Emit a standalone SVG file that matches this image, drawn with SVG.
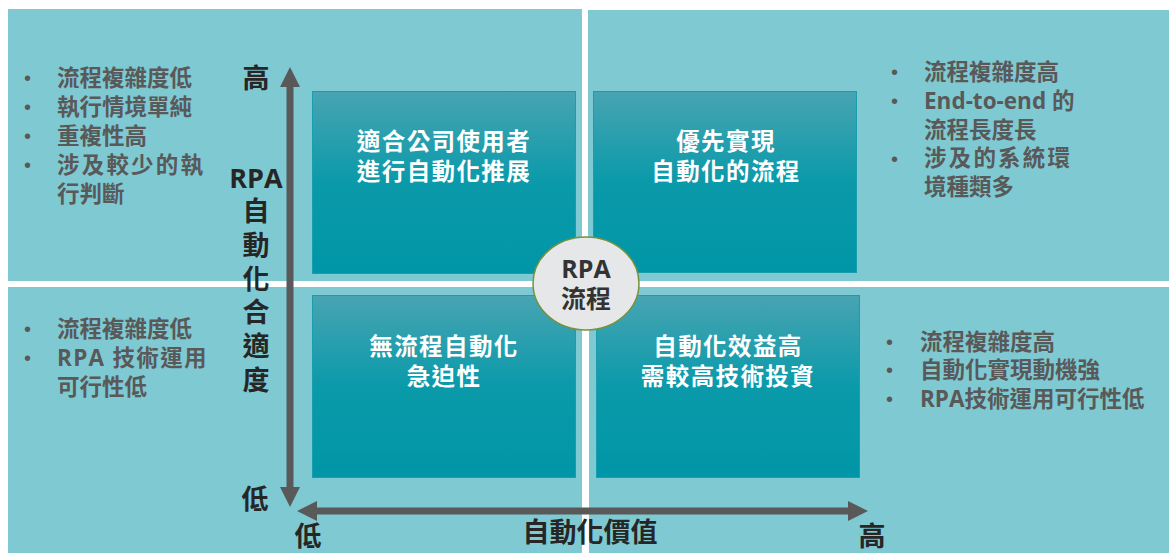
<svg xmlns="http://www.w3.org/2000/svg" width="1169" height="553" viewBox="0 0 1169 553">
<defs>
<linearGradient id="boxg" x1="0" y1="0" x2="0" y2="1">
<stop offset="0" stop-color="#48A4B2"/>
<stop offset="0.5" stop-color="#0A9AAA"/>
<stop offset="1" stop-color="#0096A7"/>
</linearGradient>
<marker id="ah" viewBox="0 0 20 20" refX="0" refY="10" markerWidth="20" markerHeight="20" markerUnits="userSpaceOnUse" orient="auto-start-reverse">
<path d="M0,0 L20,10 L0,20 Z" fill="#595959"/>
</marker>
</defs>
<style>
.quad{fill:#7FC9D2}
.box{fill:url(#boxg);stroke:#1A9EAE;stroke-width:1}
.bt{font-family:"Noto Sans CJK TC","Noto Sans",sans-serif;font-weight:bold;font-size:23.5px;letter-spacing:1.4px;fill:#FFFFFF;text-anchor:middle}
.st{font-family:"Open Sans","Noto Sans CJK TC",sans-serif;font-weight:bold;font-size:22.5px;fill:#595959}
.bul{font-family:"Liberation Sans",sans-serif;font-size:20px;fill:#595959}
.ax{font-family:"Open Sans","Noto Sans CJK TC",sans-serif;font-weight:bold;font-size:27px;fill:#262626;text-anchor:middle}
.cl{font-family:"Open Sans","Noto Sans CJK TC",sans-serif;font-weight:bold;font-size:25px;fill:#333333;text-anchor:middle}
.arr{stroke:#595959;stroke-width:7;fill:none}
</style>
<rect width="1169" height="553" fill="#FFFFFF"/>
<g id="background">
<rect class="quad" x="8" y="9" width="574" height="272"/>
<rect class="quad" x="588" y="10" width="581" height="271"/>
<rect class="quad" x="8" y="287" width="574" height="266"/>
<rect class="quad" x="589" y="287" width="580" height="266"/>
</g>
<g id="connectors">
<line class="arr" x1="290" y1="487" x2="290" y2="87" marker-start="url(#ah)" marker-end="url(#ah)"/>
<line class="arr" x1="317" y1="511" x2="848" y2="511" stroke-width="6.5" marker-start="url(#ah)" marker-end="url(#ah)"/>
</g>
<g id="node-tl">
<rect class="box" x="312.5" y="91.5" width="263" height="182"/>
<text class="bt" x="444" y="150">適合公司使用者</text>
<text class="bt" x="444" y="180">進行自動化推展</text>
</g>
<g id="node-tr">
<rect class="box" x="593.5" y="91.5" width="263" height="181"/>
<text class="bt" x="726" y="150">優先實現</text>
<text class="bt" x="726" y="180">自動化的流程</text>
</g>
<g id="node-bl">
<rect class="box" x="312.5" y="295.5" width="263" height="182"/>
<text class="bt" x="444" y="355">無流程自動化</text>
<text class="bt" x="444" y="385">急迫性</text>
</g>
<g id="node-br">
<rect class="box" x="596.5" y="295.5" width="263" height="182"/>
<text class="bt" x="728" y="355">自動化效益高</text>
<text class="bt" x="728" y="385">需較高技術投資</text>
</g>
<g id="node-center">
<ellipse cx="586" cy="283.5" rx="53" ry="46.5" fill="#E6E7E9" stroke="#76923C" stroke-width="1.5"/>
<text class="cl" x="586" y="278">RPA</text>
<text class="cl" x="586" y="308">流程</text>
</g>
<g id="list-tl">
<text class="bul" x="24" y="85">•</text>
<text class="bul" x="24" y="114">•</text>
<text class="bul" x="24" y="143">•</text>
<text class="bul" x="24" y="172">•</text>
<text class="st" x="57" y="86">流程複雜度低</text>
<text class="st" x="57" y="115">執行情境單純</text>
<text class="st" x="57" y="144">重複性高</text>
<text class="st" x="57" y="173" letter-spacing="2.2">涉及較少的執</text>
<text class="st" x="57" y="202">行判斷</text>
</g>
<g id="list-tr">
<text class="bul" x="891" y="79">•</text>
<text class="bul" x="891" y="108">•</text>
<text class="bul" x="891" y="166">•</text>
<text class="st" x="924" y="80">流程複雜度高</text>
<text class="st" x="924" y="109">End-to-end 的</text>
<text class="st" x="924" y="138">流程長度長</text>
<text class="st" x="924" y="166" letter-spacing="2.2">涉及的系統環</text>
<text class="st" x="924" y="195">境種類多</text>
</g>
<g id="list-bl">
<text class="bul" x="24" y="336">•</text>
<text class="bul" x="24" y="365">•</text>
<text class="st" x="57" y="337">流程複雜度低</text>
<text class="st" x="57" y="366" letter-spacing="1.3">RPA 技術運用</text>
<text class="st" x="57" y="395">可行性低</text>
</g>
<g id="list-br">
<text class="bul" x="886" y="349">•</text>
<text class="bul" x="886" y="377">•</text>
<text class="bul" x="886" y="406">•</text>
<text class="st" x="920" y="350">流程複雜度高</text>
<text class="st" x="920" y="378">自動化實現動機強</text>
<text class="st" x="920" y="407">RPA技術運用可行性低</text>
</g>
<g id="axis-labels">
<text class="ax" x="256" y="88">高</text>
<text class="ax" x="256" y="188">RPA</text>
<text class="ax" x="256" y="221">自</text>
<text class="ax" x="256" y="255">動</text>
<text class="ax" x="256" y="289">化</text>
<text class="ax" x="256" y="322">合</text>
<text class="ax" x="256" y="356">適</text>
<text class="ax" x="256" y="390">度</text>
<text class="ax" x="255" y="509">低</text>
<text class="ax" x="308" y="546" font-size="26">低</text>
<text class="ax" x="590" y="542" font-size="28">自動化價值</text>
<text class="ax" x="872" y="546" font-size="26">高</text>
</g>
</svg>
